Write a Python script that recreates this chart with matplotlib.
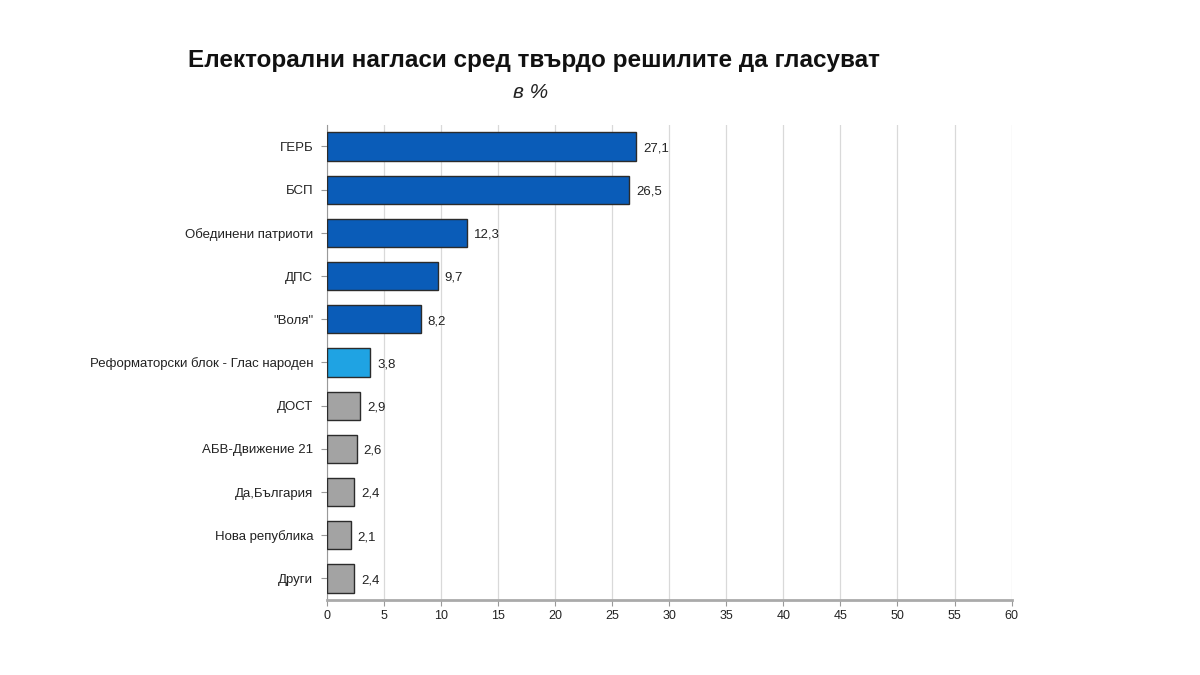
import matplotlib.pyplot as plt

parties = ['ГЕРБ', 'БСП', 'Обединени патриоти', 'ДПС', '"Воля"',
           'Реформаторски блок - Глас народен', 'ДОСТ', 'АБВ-Движение 21',
           'Да,България', 'Нова република', 'Други']
values = [27.1, 26.5, 12.3, 9.7, 8.2, 3.8, 2.9, 2.6, 2.4, 2.1, 2.4]
colors = ['#0a5cb8'] * 5 + ['#1fa3e3'] + ['#a3a3a3'] * 5

plt.rcParams['font.family'] = ['Liberation Sans', 'DejaVu Sans']

fig = plt.figure(figsize=(12, 6.75), dpi=100)
ax = fig.add_axes([0.2725, 0.111, 0.5705, 0.704])

y = list(range(len(parties)))
ax.barh(y, values, height=0.65, color=colors, edgecolor='#2b2b2b', linewidth=1.0, zorder=3)

for yi, v in zip(y, values):
    ax.text(v + 0.6, yi + 0.04, f'{v:.1f}'.replace('.', ','), va='center', ha='left',
            fontsize=9.5, color='#222222')

ax.set_xlim(0, 60)
ax.set_ylim(10.5, -0.5)
ax.set_xticks(range(0, 61, 5))
ax.set_yticks(y)
ax.set_yticklabels(parties, fontsize=9.5, color='#222222')
ax.tick_params(axis='x', labelsize=9, colors='#222222', length=4, color='#999999')
ax.tick_params(axis='y', length=4, color='#999999', pad=6)
ax.grid(axis='x', color='#d9d9d9', linewidth=0.9, zorder=0)
for s in ['top', 'right']:
    ax.spines[s].set_visible(False)
ax.spines['left'].set_color('#999999')
ax.spines['bottom'].set_color('#aaaaaa')
ax.spines['bottom'].set_linewidth(2)

fig.text(0.445, 0.91, 'Електорални нагласи сред твърдо решилите да гласуват',
         ha='center', va='center', fontsize=17.5, fontweight='bold', color='#111111')
fig.text(0.442, 0.863, 'в %', ha='center', va='center', fontsize=15,
         fontstyle='italic', color='#222222')

plt.savefig('out.png', dpi=100)
